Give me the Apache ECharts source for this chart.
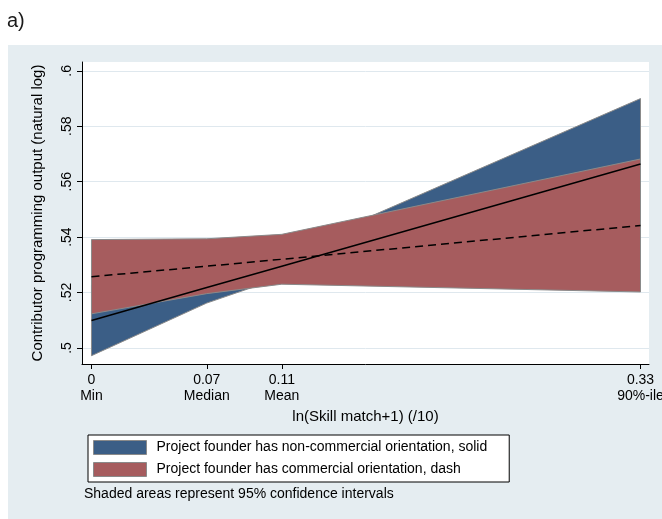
<!DOCTYPE html>
<html>
<head>
<meta charset="utf-8">
<script src="https://cdn.jsdelivr.net/npm/echarts@6/dist/echarts.min.js"></script>
<style>
  html, body { margin: 0; padding: 0; background: #ffffff; }
  #chart { width: 662px; height: 519px; }
</style>
</head>
<body>
<div id="chart"></div>
<script>
// Evaluation points of skill match: Min, Median, Mean, 90th percentile
const xPoints = [0, 0.0693, 0.1144, 0.33];
const xTickNumbers = ['0', '0.07', '0.11', '0.33'];
const xTickNames = ['Min', 'Median', 'Mean', '90%-ile'];

const yTickValues = [0.5, 0.52, 0.54, 0.56, 0.58, 0.6];
const yTickLabels = ['.5', '.52', '.54', '.56', '.58', '.6'];

// Non-commercial founder: fitted output and 95% confidence bounds
const nonCommFit  = [0.5099, 0.5218, 0.5295, 0.5664];
const nonCommLow  = [0.4972, 0.5162, 0.5255, 0.5428];
const nonCommHigh = [0.5226, 0.5274, 0.5335, 0.5900];

// Commercial founder: fitted output and 95% confidence bounds
const commFit  = [0.5257, 0.5295, 0.5320, 0.5442];
const commLow  = [0.5123, 0.5196, 0.5230, 0.5202];
const commHigh = [0.5391, 0.5394, 0.5410, 0.5682];

const nonCommName = 'Project founder has non-commercial orientation, solid';
const commName = 'Project founder has commercial orientation, dash';

const FONT = '"Liberation Sans", Arial, sans-serif';
const BLUE = '#3b5e86';
const RED = '#a65c5e';
const EDGE = '#8a8a8a';

// Confidence band drawn as a single polygon through the upper and lower bounds
function bandSeries(name, low, high, color) {
  return {
    type: 'custom',
    name: name,
    coordinateSystem: 'cartesian2d',
    data: xPoints.map((x, i) => [x, low[i], high[i]]),
    encode: { x: 0, y: [1, 2] },
    itemStyle: { color: color },
    renderItem: function (params, api) {
      if (params.dataIndex !== 0) return null;
      const pts = [];
      for (let i = 0; i < xPoints.length; i++) pts.push(api.coord([xPoints[i], high[i]]));
      for (let i = xPoints.length - 1; i >= 0; i--) pts.push(api.coord([xPoints[i], low[i]]));
      return {
        type: 'polygon',
        shape: { points: pts },
        style: { fill: color, stroke: EDGE, lineWidth: 1 }
      };
    },
    silent: true
  };
}

function fitSeries(fit, dash) {
  return {
    type: 'line',
    data: xPoints.map((x, i) => [x, fit[i]]),
    symbol: 'none',
    z: 5,
    lineStyle: { color: '#000000', width: 1.5, type: dash ? [8, 5] : 'solid' },
    silent: true
  };
}

const chart = echarts.init(document.getElementById('chart'), null, { renderer: 'canvas' });

chart.setOption({
  animation: false,
  textStyle: { fontFamily: FONT },
  graphic: [
    {
      type: 'rect', z: -100, silent: true,
      shape: { x: 8, y: 45, width: 654, height: 474 },
      style: { fill: '#e5edf1' }
    },
    {
      type: 'text', left: 7, top: 11,
      style: { text: 'a)', font: '20px ' + FONT, fill: '#1a1a1a' }
    },
    {
      type: 'text', left: 84, top: 487,
      style: { text: 'Shaded areas represent 95% confidence intervals', font: '14px ' + FONT, fill: '#000000' }
    }
  ],
  grid: {
    left: 82, right: 13, top: 62, bottom: 155,
    outerBoundsMode: 'none',
    containLabel: false,
    show: true, backgroundColor: '#ffffff', borderWidth: 0
  },
  xAxis: {
    type: 'value',
    min: -0.0057, max: 0.3351,
    name: 'ln(Skill match+1) (/10)',
    nameLocation: 'middle',
    nameGap: 37,
    nameTextStyle: { fontSize: 15, color: '#000000', fontFamily: FONT },
    axisLine: { show: true, onZero: false, lineStyle: { color: '#000000', width: 1 } },
    axisTick: { show: true, customValues: xPoints, length: 5, lineStyle: { color: '#000000' } },
    axisLabel: {
      customValues: xPoints,
      margin: 8,
      fontSize: 14,
      lineHeight: 16,
      color: '#000000',
      fontFamily: FONT,
      hideOverlap: false,
      formatter: function (v) {
        const i = xPoints.findIndex(p => Math.abs(p - v) < 1e-9);
        return i < 0 ? '' : xTickNumbers[i] + '\n' + xTickNames[i];
      }
    },
    splitLine: { show: false }
  },
  yAxis: {
    type: 'value',
    min: 0.4942, max: 0.6032,
    name: 'Contributor programming output (natural log)',
    nameLocation: 'middle',
    nameGap: 37,
    nameRotate: 90,
    nameTextStyle: { fontSize: 15, color: '#000000', fontFamily: FONT },
    axisLine: { show: true, onZero: false, lineStyle: { color: '#000000', width: 1 } },
    axisTick: { show: true, customValues: yTickValues, length: 5, lineStyle: { color: '#000000' } },
    axisLabel: {
      customValues: yTickValues,
      rotate: 90,
      margin: 8,
      fontSize: 14,
      color: '#000000',
      fontFamily: FONT,
      formatter: function (v) {
        const i = yTickValues.findIndex(p => Math.abs(p - v) < 1e-9);
        return i < 0 ? '' : yTickLabels[i];
      }
    },
    splitLine: { show: true, lineStyle: { color: '#dfe8ee', width: 1 } }
  },
  legend: {
    left: 88, top: 435,
    orient: 'vertical',
    itemWidth: 53, itemHeight: 14, itemGap: 7,
    padding: [5, 22, 5, 5],
    backgroundColor: '#ffffff',
    borderColor: '#000000', borderWidth: 1, borderRadius: 0,
    selectedMode: false,
    icon: 'rect',
    textStyle: { fontSize: 14, color: '#000000', fontFamily: FONT, padding: [0, 0, 0, 5] },
    data: [
      { name: nonCommName, itemStyle: { color: BLUE, borderColor: EDGE, borderWidth: 1 } },
      { name: commName, itemStyle: { color: RED, borderColor: EDGE, borderWidth: 1 } }
    ]
  },
  series: [
    bandSeries(nonCommName, nonCommLow, nonCommHigh, BLUE),
    bandSeries(commName, commLow, commHigh, RED),
    fitSeries(nonCommFit, false),
    fitSeries(commFit, true)
  ]
});
</script>
</body>
</html>
